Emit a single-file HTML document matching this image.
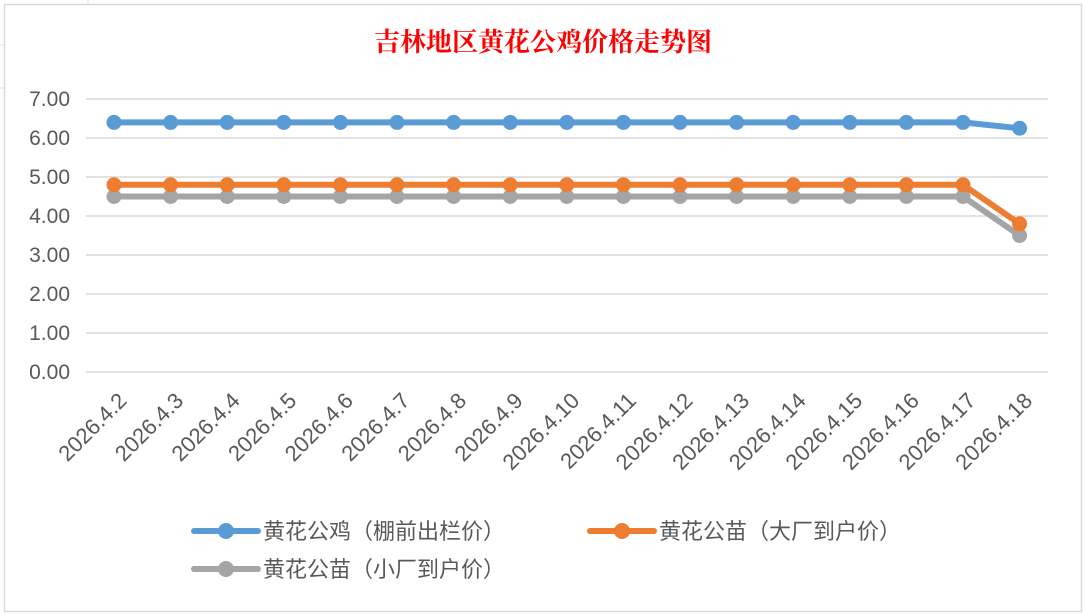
<!DOCTYPE html>
<html><head><meta charset="utf-8"><style>
body{margin:0;background:#fff;}
svg{display:block;font-family:"Liberation Sans","Noto Sans CJK SC",sans-serif;}
</style></head><body>
<svg width="1086" height="615" viewBox="0 0 1086 615">
<rect x="0" y="0" width="1086" height="615" fill="#fff"/>
<line x1="88" y1="0" x2="88" y2="4" stroke="#e0e0e0"/>
<line x1="0" y1="45" x2="4" y2="45" stroke="#e0e0e0"/>
<line x1="0" y1="88" x2="4" y2="88" stroke="#e0e0e0"/>
<rect x="4.5" y="4.5" width="1077" height="607" fill="#fff" stroke="#d9d9d9" stroke-width="1.5"/>
<text x="543" y="51" text-anchor="middle" font-size="26" font-weight="bold" fill="#ff0000" font-family="'Noto Serif CJK SC','Liberation Serif',serif">吉林地区黄花公鸡价格走势图</text>
<g stroke="#d9d9d9" stroke-width="1.5">
<line x1="86" y1="99" x2="1048" y2="99"/><line x1="86" y1="138" x2="1048" y2="138"/>
<line x1="86" y1="177" x2="1048" y2="177"/><line x1="86" y1="216" x2="1048" y2="216"/>
<line x1="86" y1="255" x2="1048" y2="255"/><line x1="86" y1="294" x2="1048" y2="294"/>
<line x1="86" y1="333" x2="1048" y2="333"/><line x1="86" y1="372" x2="1048" y2="372"/>
</g>
<g font-size="21" fill="#595959" text-anchor="end">
<text x="70" y="106">7.00</text><text x="70" y="145">6.00</text><text x="70" y="184">5.00</text>
<text x="70" y="223">4.00</text><text x="70" y="262">3.00</text><text x="70" y="301">2.00</text>
<text x="70" y="340">1.00</text><text x="70" y="379">0.00</text>
</g>
<g id="xl" font-size="22" fill="#595959" text-anchor="end"></g>
<g id="series"></g>
<g font-size="22" fill="#595959">
<line x1="194" y1="531" x2="258" y2="531" stroke="#5b9bd5" stroke-width="6" stroke-linecap="round"/><circle cx="226" cy="531" r="8" fill="#5b9bd5"/>
<text x="263" y="539">黄花公鸡（棚前出栏价）</text>
<line x1="590" y1="531" x2="654" y2="531" stroke="#ed7d31" stroke-width="6" stroke-linecap="round"/><circle cx="622" cy="531" r="8" fill="#ed7d31"/>
<text x="659" y="539">黄花公苗（大厂到户价）</text>
<line x1="194" y1="569" x2="258" y2="569" stroke="#a5a5a5" stroke-width="6" stroke-linecap="round"/><circle cx="226" cy="569" r="8" fill="#a5a5a5"/>
<text x="263" y="577">黄花公苗（小厂到户价）</text>
</g>
</svg>
<script>
var ns="http://www.w3.org/2000/svg";
var xs=[];for(var i=0;i<17;i++)xs.push(114+i*56.6);
var xl=document.getElementById('xl');
for(var i=0;i<17;i++){var t=document.createElementNS(ns,'text');var x=xs[i]+14,y=402;
t.setAttribute('x',x);t.setAttribute('y',y);t.setAttribute('transform','rotate(-45 '+x+' '+y+')');
t.textContent='2026.4.'+(i+2);xl.appendChild(t);}
function Y(v){return 372-v*39;}
var data=[["#a5a5a5",4.5,3.5],["#ed7d31",4.8,3.8],["#5b9bd5",6.4,6.25]];
var g=document.getElementById('series');
data.forEach(function(d){var pts=[];for(var i=0;i<17;i++)pts.push(xs[i]+','+Y(i<16?d[1]:d[2]));
var p=document.createElementNS(ns,'polyline');p.setAttribute('points',pts.join(' '));p.setAttribute('fill','none');
p.setAttribute('stroke',d[0]);p.setAttribute('stroke-width','6');p.setAttribute('stroke-linejoin','round');p.setAttribute('stroke-linecap','round');g.appendChild(p);
for(var i=0;i<17;i++){var c=document.createElementNS(ns,'circle');c.setAttribute('cx',xs[i]);c.setAttribute('cy',Y(i<16?d[1]:d[2]));c.setAttribute('r','7.5');c.setAttribute('fill',d[0]);g.appendChild(c);}});
</script>
</body></html>
